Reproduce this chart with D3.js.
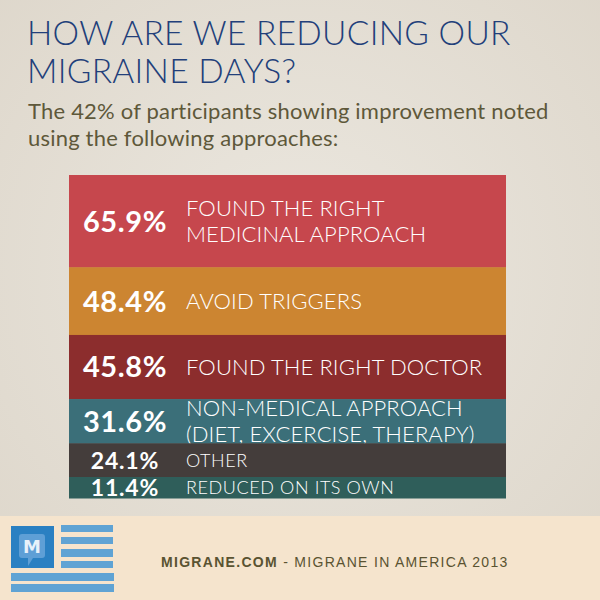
<!DOCTYPE html>
<html>
<head>
<meta charset="utf-8">
<script src="https://cdn.jsdelivr.net/npm/d3@7"></script>
<style>
  html, body { margin: 0; padding: 0; background: #e7e2d9; }
  svg { display: block; }
</style>
</head>
<body>
<div id="chart"></div>
<script>
// ---- Data ----
const categories = [
  ["FOUND THE RIGHT", "MEDICINAL APPROACH"],
  ["AVOID TRIGGERS"],
  ["FOUND THE RIGHT DOCTOR"],
  ["NON-MEDICAL APPROACH", "(DIET, EXCERCISE, THERAPY)"],
  ["OTHER"],
  ["REDUCED ON ITS OWN"]
];
const values = [65.9, 48.4, 45.8, 31.6, 24.1, 11.4];
const colors = ["#c6474d", "#cc8531", "#8c2d2d", "#3b6f79", "#443d3b", "#2f5e5a"];
const titleLines = ["HOW ARE WE REDUCING OUR", "MIGRAINE DAYS?"];
const subtitleLines = ["The 42% of participants showing improvement noted", "using the following approaches:"];

(function () {
const W = 600, H = 600;
const svg = d3.select("#chart").append("svg").attr("width", W).attr("height", H);

// background paper
const defs = svg.append("defs");
const rg = defs.append("radialGradient").attr("id", "paper").attr("cx", "50%").attr("cy", "45%").attr("r", "75%");
rg.append("stop").attr("offset", "0%").attr("stop-color", "#ebe7df");
rg.append("stop").attr("offset", "100%").attr("stop-color", "#ddd6ca");
svg.append("rect").attr("width", W).attr("height", H).attr("fill", "url(#paper)");

// Title
svg.append("g").selectAll("text").data(titleLines).join("text")
  .attr("x", 27).attr("y", (d, i) => 45 + i * 38)
  .attr("font-family", "Lato, 'Open Sans', sans-serif")
  .attr("font-weight", 300)
  .attr("font-size", 33.5)
  .attr("letter-spacing", 0.3)
  .attr("fill", "#223f7a")
  .text(d => d);

svg.append("g").selectAll("text").data(subtitleLines).join("text")
  .attr("x", 28).attr("y", (d, i) => 119 + i * 27)
  .attr("font-family", "Lato, 'Open Sans', sans-serif")
  .attr("font-weight", 400)
  .attr("font-size", 22)
  .attr("letter-spacing", 0.2)
  .attr("fill", "#5e583a")
  .text(d => d);

// Bars
const barTop = 175, barBottom = 498, minH = 21;
const total = d3.sum(values);
const minV = d3.min(values);
const hScale = d3.scaleLinear().domain([0, total - minV]).range([0, (barBottom - barTop) - minH]);
const heights = values.map(v => Math.max(minH, hScale(v)));
const ys = [];
let acc = barTop;
heights.forEach(h => { ys.push(acc); acc += h; });

const x = d3.scaleLinear().domain([0, 1]).range([69, 506]);

const bands = svg.append("g").selectAll("g").data(values).join("g")
  .attr("transform", (d, i) => `translate(0,${ys[i]})`);

bands.append("rect")
  .attr("x", x(0)).attr("width", x(1) - x(0))
  .attr("height", (d, i) => heights[i] + 0.5)
  .attr("fill", (d, i) => colors[i]);

bands.append("text")
  .attr("x", 125)
  .attr("y", (d, i) => heights[i] / 2)
  .attr("dy", (d, i) => heights[i] > 40 ? "0.36em" : "0.37em")
  .attr("text-anchor", "middle")
  .attr("font-family", "Lato, 'Open Sans', sans-serif")
  .attr("font-weight", 700)
  .attr("font-size", (d, i) => heights[i] > 40 ? 29 : 23)
  .attr("letter-spacing", (d, i) => heights[i] > 40 ? 0.6 : 0.8)
  .attr("fill", "#ffffff")
  .text(d => d3.format(".1f")(d) + "%");

bands.each(function(d, i) {
  const g = d3.select(this);
  const lines = categories[i];
  const big = heights[i] > 40;
  const fs = big ? 22 : 18;
  const lh = big ? 26 : 18;
  const startY = heights[i] / 2 - (lines.length - 1) * lh / 2;
  g.selectAll("text.lab").data(lines).join("text")
    .attr("class", "lab")
    .attr("x", 186)
    .attr("y", (l, j) => startY + j * lh)
    .attr("dy", "0.36em")
    .attr("font-family", "Lato, 'Open Sans', sans-serif")
    .attr("font-weight", 300)
    .attr("font-size", fs)
    .attr("letter-spacing", big ? 0.1 : 0.6)
    .attr("fill", "#ffffff")
    .text(l => l);
});

// Footer
svg.append("rect").attr("x", 0).attr("y", 516).attr("width", W).attr("height", H - 516).attr("fill", "#f5e4cd");

const logo = svg.append("g");
logo.append("rect").attr("x", 11).attr("y", 526).attr("width", 43).attr("height", 42).attr("fill", "#2a80c2");
logo.append("path")
  .attr("d", "M22,534 H42 Q45,534 45,537 V555 Q45,558 42,558 H33 L28,566 L28,558 H22 Q19,558 19,555 V537 Q19,534 22,534 Z")
  .attr("fill", "#5e9fd6");
logo.append("text").attr("x", 32).attr("y", 553).attr("text-anchor", "middle")
  .attr("font-family", "'DejaVu Sans', sans-serif").attr("font-weight", 700)
  .attr("font-size", 18).attr("fill", "#e8f1fa").text("M");
const stripes = [[61, 525, 52, 7], [61, 537, 52, 7], [61, 549, 52, 8], [61, 561, 52, 7], [11, 573, 103, 8], [11, 584, 103, 8]];
logo.selectAll("rect.s").data(stripes).join("rect").attr("class", "s")
  .attr("x", d => d[0]).attr("y", d => d[1]).attr("width", d => d[2]).attr("height", d => d[3])
  .attr("fill", "#5fa3d4");

const ft = svg.append("text").attr("x", 161).attr("y", 567)
  .attr("font-family", "'Liberation Sans', Arial, sans-serif")
  .attr("font-size", 14).attr("letter-spacing", 1.3).attr("fill", "#5a5331");
ft.append("tspan").attr("font-weight", 700).text("MIGRANE.COM");
ft.append("tspan").text(" - MIGRANE IN AMERICA 2013");
})();
</script>
</body>
</html>
